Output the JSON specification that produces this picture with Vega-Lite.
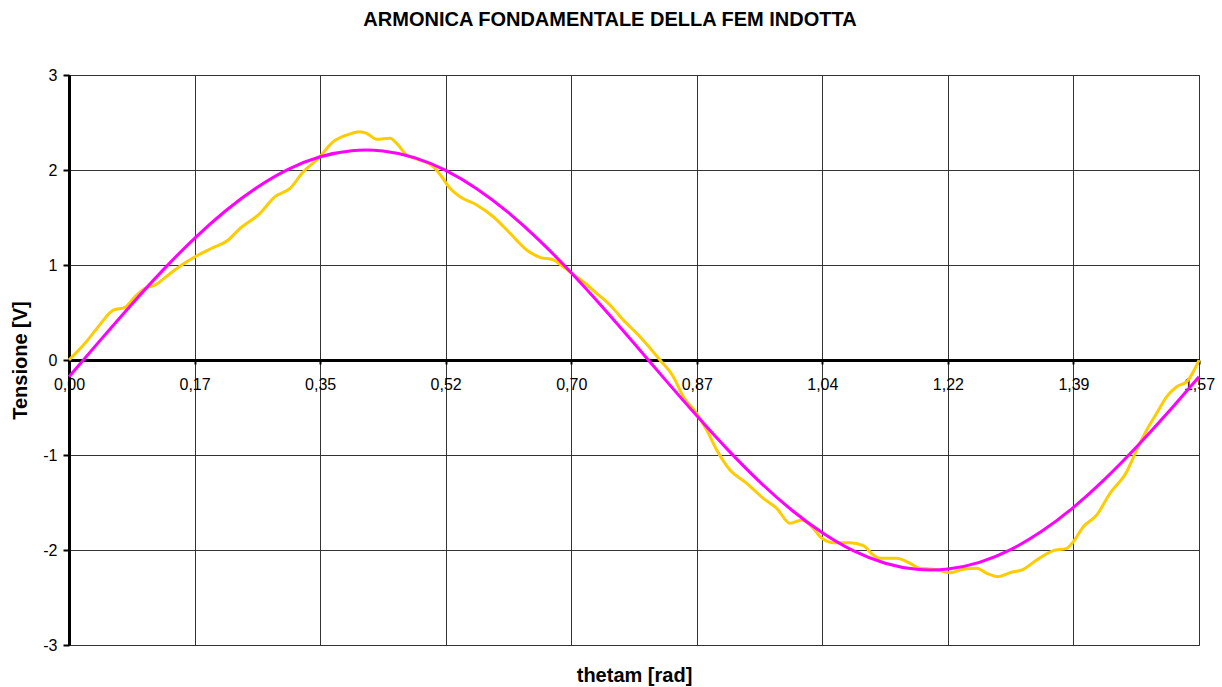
{
  "$schema": "https://vega.github.io/schema/vega-lite/v6.json",
  "width": 1130,
  "height": 570,
  "autosize": {"type": "none"},
  "padding": {"left": 69, "top": 75, "right": 23, "bottom": 42},
  "background": "white",
  "title": {"text": "ARMONICA FONDAMENTALE DELLA FEM INDOTTA", "font": "Liberation Sans", "fontSize": 20, "fontWeight": "bold", "color": "black", "dx": -24, "offset": 37, "anchor": "middle"},
  "config": {"view": {"stroke": "#808080", "strokeWidth": 1}, "font": "Liberation Sans"},
  "data": {"values": [
    {"s": "fem", "theta": 0.0, "v": 0.0},
    {"s": "fem", "theta": 0.0222, "v": 0.176},
    {"s": "fem", "theta": 0.0407, "v": 0.351},
    {"s": "fem", "theta": 0.0616, "v": 0.526},
    {"s": "fem", "theta": 0.0778, "v": 0.555},
    {"s": "fem", "theta": 0.0917, "v": 0.666},
    {"s": "fem", "theta": 0.1056, "v": 0.755},
    {"s": "fem", "theta": 0.1195, "v": 0.789},
    {"s": "fem", "theta": 0.138, "v": 0.895},
    {"s": "fem", "theta": 0.1567, "v": 1.0},
    {"s": "fem", "theta": 0.1752, "v": 1.087},
    {"s": "fem", "theta": 0.1984, "v": 1.176},
    {"s": "fem", "theta": 0.2214, "v": 1.263},
    {"s": "fem", "theta": 0.2353, "v": 1.368},
    {"s": "fem", "theta": 0.2655, "v": 1.544},
    {"s": "fem", "theta": 0.2864, "v": 1.719},
    {"s": "fem", "theta": 0.3072, "v": 1.807},
    {"s": "fem", "theta": 0.3257, "v": 1.982},
    {"s": "fem", "theta": 0.3466, "v": 2.123},
    {"s": "fem", "theta": 0.3674, "v": 2.298},
    {"s": "fem", "theta": 0.386, "v": 2.368},
    {"s": "fem", "theta": 0.4045, "v": 2.403},
    {"s": "fem", "theta": 0.4138, "v": 2.386},
    {"s": "fem", "theta": 0.4277, "v": 2.323},
    {"s": "fem", "theta": 0.4462, "v": 2.334},
    {"s": "fem", "theta": 0.4555, "v": 2.281},
    {"s": "fem", "theta": 0.4694, "v": 2.158},
    {"s": "fem", "theta": 0.4879, "v": 2.105},
    {"s": "fem", "theta": 0.5064, "v": 2.035},
    {"s": "fem", "theta": 0.5181, "v": 1.929},
    {"s": "fem", "theta": 0.5296, "v": 1.807},
    {"s": "fem", "theta": 0.5435, "v": 1.719},
    {"s": "fem", "theta": 0.5667, "v": 1.632},
    {"s": "fem", "theta": 0.5898, "v": 1.508},
    {"s": "fem", "theta": 0.613, "v": 1.334},
    {"s": "fem", "theta": 0.6362, "v": 1.158},
    {"s": "fem", "theta": 0.6547, "v": 1.081},
    {"s": "fem", "theta": 0.6732, "v": 1.053},
    {"s": "fem", "theta": 0.6871, "v": 0.982},
    {"s": "fem", "theta": 0.6964, "v": 0.929},
    {"s": "fem", "theta": 0.7149, "v": 0.824},
    {"s": "fem", "theta": 0.7335, "v": 0.702},
    {"s": "fem", "theta": 0.752, "v": 0.579},
    {"s": "fem", "theta": 0.7705, "v": 0.421},
    {"s": "fem", "theta": 0.7937, "v": 0.245},
    {"s": "fem", "theta": 0.8215, "v": 0.0},
    {"s": "fem", "theta": 0.84, "v": -0.176},
    {"s": "fem", "theta": 0.8539, "v": -0.386},
    {"s": "fem", "theta": 0.8726, "v": -0.561},
    {"s": "fem", "theta": 0.8865, "v": -0.737},
    {"s": "fem", "theta": 0.9004, "v": -0.947},
    {"s": "fem", "theta": 0.9188, "v": -1.158},
    {"s": "fem", "theta": 0.9421, "v": -1.298},
    {"s": "fem", "theta": 0.9651, "v": -1.456},
    {"s": "fem", "theta": 0.9838, "v": -1.561},
    {"s": "fem", "theta": 1.0023, "v": -1.719},
    {"s": "fem", "theta": 1.0185, "v": -1.684},
    {"s": "fem", "theta": 1.0346, "v": -1.772},
    {"s": "fem", "theta": 1.044, "v": -1.86},
    {"s": "fem", "theta": 1.0625, "v": -1.923},
    {"s": "fem", "theta": 1.0857, "v": -1.923},
    {"s": "fem", "theta": 1.1042, "v": -1.955},
    {"s": "fem", "theta": 1.1181, "v": -2.053},
    {"s": "fem", "theta": 1.1274, "v": -2.087},
    {"s": "fem", "theta": 1.1506, "v": -2.087},
    {"s": "fem", "theta": 1.1691, "v": -2.14},
    {"s": "fem", "theta": 1.183, "v": -2.193},
    {"s": "fem", "theta": 1.2015, "v": -2.203},
    {"s": "fem", "theta": 1.2247, "v": -2.239},
    {"s": "fem", "theta": 1.2432, "v": -2.203},
    {"s": "fem", "theta": 1.2618, "v": -2.193},
    {"s": "fem", "theta": 1.2757, "v": -2.245},
    {"s": "fem", "theta": 1.2918, "v": -2.281},
    {"s": "fem", "theta": 1.3081, "v": -2.239},
    {"s": "fem", "theta": 1.3266, "v": -2.203},
    {"s": "fem", "theta": 1.3452, "v": -2.105},
    {"s": "fem", "theta": 1.3683, "v": -2.007},
    {"s": "fem", "theta": 1.3869, "v": -1.982},
    {"s": "fem", "theta": 1.3961, "v": -1.913},
    {"s": "fem", "theta": 1.41, "v": -1.755},
    {"s": "fem", "theta": 1.4286, "v": -1.632},
    {"s": "fem", "theta": 1.4471, "v": -1.403},
    {"s": "fem", "theta": 1.4703, "v": -1.176},
    {"s": "fem", "theta": 1.4842, "v": -0.947},
    {"s": "fem", "theta": 1.4981, "v": -0.737},
    {"s": "fem", "theta": 1.512, "v": -0.561},
    {"s": "fem", "theta": 1.5259, "v": -0.386},
    {"s": "fem", "theta": 1.5398, "v": -0.281},
    {"s": "fem", "theta": 1.5537, "v": -0.228},
    {"s": "fem", "theta": 1.5629, "v": -0.123},
    {"s": "fem", "theta": 1.5708, "v": 0.0},
    {"s": "fond", "theta": 0.0, "v": -0.176},
    {"s": "fond", "theta": 0.0436, "v": 0.209},
    {"s": "fond", "theta": 0.0873, "v": 0.588},
    {"s": "fond", "theta": 0.1309, "v": 0.949},
    {"s": "fond", "theta": 0.1745, "v": 1.281},
    {"s": "fond", "theta": 0.2182, "v": 1.574},
    {"s": "fond", "theta": 0.2618, "v": 1.819},
    {"s": "fond", "theta": 0.3054, "v": 2.01},
    {"s": "fond", "theta": 0.3491, "v": 2.139},
    {"s": "fond", "theta": 0.3927, "v": 2.203},
    {"s": "fond", "theta": 0.4363, "v": 2.2},
    {"s": "fond", "theta": 0.48, "v": 2.13},
    {"s": "fond", "theta": 0.5236, "v": 1.996},
    {"s": "fond", "theta": 0.5672, "v": 1.801},
    {"s": "fond", "theta": 0.6109, "v": 1.551},
    {"s": "fond", "theta": 0.6545, "v": 1.254},
    {"s": "fond", "theta": 0.6981, "v": 0.919},
    {"s": "fond", "theta": 0.7418, "v": 0.556},
    {"s": "fond", "theta": 0.7854, "v": 0.176},
    {"s": "fond", "theta": 0.829, "v": -0.209},
    {"s": "fond", "theta": 0.8727, "v": -0.588},
    {"s": "fond", "theta": 0.9163, "v": -0.949},
    {"s": "fond", "theta": 0.9599, "v": -1.281},
    {"s": "fond", "theta": 1.0036, "v": -1.574},
    {"s": "fond", "theta": 1.0472, "v": -1.819},
    {"s": "fond", "theta": 1.0908, "v": -2.01},
    {"s": "fond", "theta": 1.1345, "v": -2.139},
    {"s": "fond", "theta": 1.1781, "v": -2.203},
    {"s": "fond", "theta": 1.2217, "v": -2.2},
    {"s": "fond", "theta": 1.2654, "v": -2.13},
    {"s": "fond", "theta": 1.309, "v": -1.996},
    {"s": "fond", "theta": 1.3526, "v": -1.801},
    {"s": "fond", "theta": 1.3963, "v": -1.551},
    {"s": "fond", "theta": 1.4399, "v": -1.254},
    {"s": "fond", "theta": 1.4835, "v": -0.919},
    {"s": "fond", "theta": 1.5272, "v": -0.556},
    {"s": "fond", "theta": 1.5708, "v": -0.176}
  ]},
  "encoding": {
    "x": {
      "field": "theta", "type": "quantitative",
      "scale": {"domain": [0, 1.5708], "nice": false, "zero": false},
      "axis": {
        "values": [0, 0.174533, 0.349066, 0.523599, 0.698132, 0.872665, 1.047198, 1.22173, 1.396263, 1.570796],
        "labelExpr": "['0,00','0,17','0,35','0,52','0,70','0,87','1,04','1,22','1,39','1,57'][round(datum.value/0.174533)]",
        "offset": -285,
        "domainColor": "black", "domainWidth": 3,
        "tickColor": "black", "tickWidth": 2, "tickSize": 4,
        "labelFont": "Liberation Sans", "labelFontSize": 16, "labelColor": "black", "labelPadding": 12,
        "labelFlush": false, "labelOverlap": false,
        "grid": true, "gridColor": "#333333", "gridWidth": 1,
        "title": "thetam [rad]", "titleY": 315, "titleBaseline": "middle",
        "titleFont": "Liberation Sans", "titleFontSize": 20, "titleFontWeight": "bold", "titleColor": "black"
      }
    },
    "y": {
      "field": "v", "type": "quantitative",
      "scale": {"domain": [-3, 3], "nice": false},
      "axis": {
        "values": [-3, -2, -1, 0, 1, 2, 3],
        "labelExpr": "'' + datum.value",
        "domainColor": "black", "domainWidth": 3,
        "tickColor": "black", "tickWidth": 2, "tickSize": 6,
        "labelFont": "Liberation Sans", "labelFontSize": 16, "labelColor": "black", "labelPadding": 6,
        "grid": true, "gridColor": "#333333", "gridWidth": 1,
        "title": "Tensione [V]", "titleX": -49, "titleBaseline": "middle",
        "titleFont": "Liberation Sans", "titleFontSize": 20, "titleFontWeight": "bold", "titleColor": "black"
      }
    }
  },
  "layer": [
    {"transform": [{"filter": "datum.s === 'fem'"}], "mark": {"type": "line", "color": "#FFCC00", "strokeWidth": 3, "interpolate": "monotone"}},
    {"transform": [{"filter": "datum.s === 'fond'"}], "mark": {"type": "line", "color": "#FF00FF", "strokeWidth": 3, "interpolate": "natural"}}
  ]
}
